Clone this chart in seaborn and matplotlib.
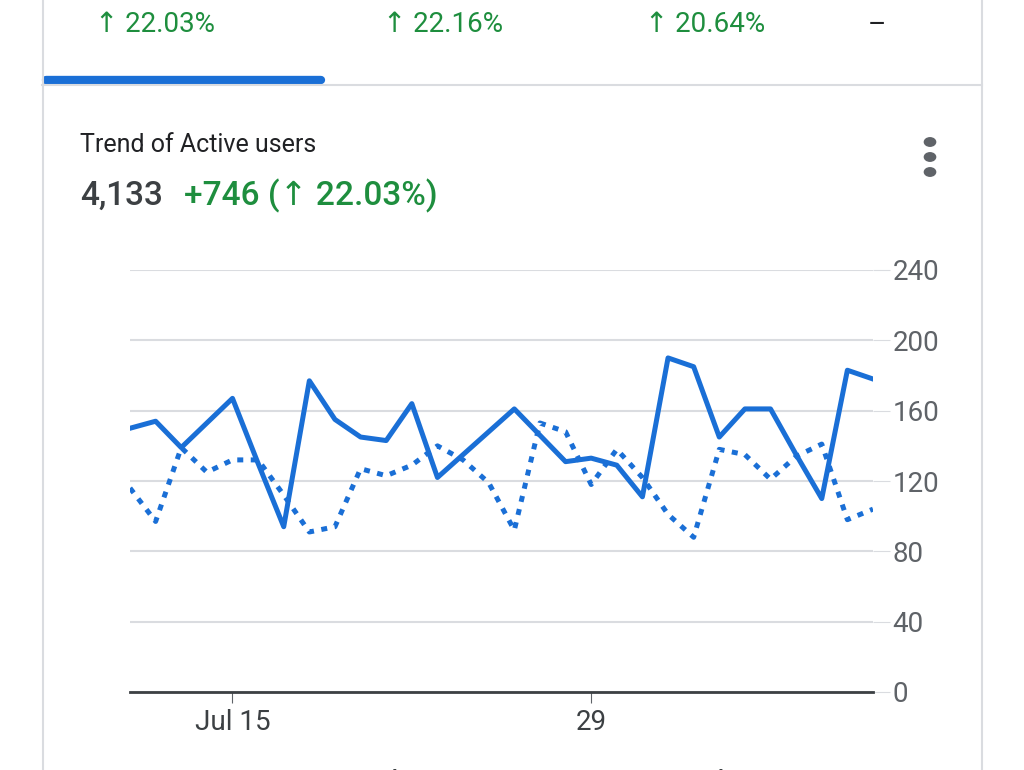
import pandas as pd
import numpy as np
import matplotlib.pyplot as plt
import seaborn as sns

#---------------data
dates = pd.date_range("2023-07-11", periods=30, freq="D")
current = [150, 154, 139, 153, 167, 130, 94, 177, 155, 145, 143, 164, 122, 135, 148,
           161, 146, 131, 133, 129, 111, 190, 185, 145, 161, 161, 135, 110, 183, 178]
previous = [116, 97, 139, 125, 132, 132, 112, 91, 94, 127, 123, 129, 140, 132, 119,
            92, 153, 148, 118, 138, 122, 101, 88, 138, 135, 121, 134, 141, 98, 104]
y_ticks = [0, 40, 80, 120, 160, 200, 240]
header_pcts = ["↑ 22.03%", "↑ 22.16%", "↑ 20.64%"]

df = pd.DataFrame({"date": dates, "current": current, "previous": previous})

blue = "#1a6fd6"
green = "#1e8e3e"
plt.rcParams["font.family"] = ["Roboto", "DejaVu Sans"]

fig = plt.figure(figsize=(10.24, 7.7), dpi=100)

#---------------header and card decorations
W, H = 1024, 770
def fx(x): return x / W
def fy(y): return 1 - y / H

for x, t in zip([155, 443, 705], header_pcts):
    fig.text(fx(x), fy(25), t, color=green, fontsize=20, ha="center", va="center")
fig.text(fx(877), fy(25), "–", color="#202124", fontsize=20, ha="center", va="center")
fig.add_artist(plt.Line2D([fx(46), fx(321)], [fy(80), fy(80)], color=blue, lw=6, solid_capstyle="round"))
fig.add_artist(plt.Line2D([fx(42), fx(982)], [fy(85), fy(85)], color="#dadce0", lw=1.5))
fig.add_artist(plt.Line2D([fx(43), fx(43)], [fy(0), fy(770)], color="#dadce0", lw=1.5))
fig.add_artist(plt.Line2D([fx(982), fx(982)], [fy(0), fy(770)], color="#dadce0", lw=1.5))

fig.text(fx(80), fy(145), "Trend of Active users", color="#202124", fontsize=18, va="center")
fig.text(fx(80), fy(196), "4,133", color="#3c4043", fontsize=24, va="center", weight="medium")
fig.text(fx(184), fy(196), "+746 (↑ 22.03%)", color=green, fontsize=24, va="center", weight="medium")
for yy in [142, 157, 172]:
    fig.add_artist(plt.Circle((fx(930), fy(yy)), 0.0055, transform=fig.transFigure, color="#5f6368"))

#---------------main chart
ax = fig.add_axes([fx(130), fy(692), fx(873) - fx(130), fy(270) - fy(692)])
sns.lineplot(data=df, x="date", y="current", ax=ax, color=blue, lw=3.6, label="Current Period")
sns.lineplot(data=df, x="date", y="previous", ax=ax, color=blue, lw=3.6, linestyle=(0, (1.2, 1.5)),
             label="Previous Period")
ax.set_ylim(0, 240)
ax.set_xlim(dates[0], dates[-1])
ax.set_yticks(y_ticks)
ax.yaxis.tick_right()
ax.tick_params(axis="y", length=12, color="#dadce0", labelsize=20, labelcolor="#5f6368", pad=2)
ax.grid(axis="y", color="#dadce0", lw=1.5)
ax.set_xticks([pd.Timestamp("2023-07-15"), pd.Timestamp("2023-07-29")])
ax.set_xticklabels(["Jul 15", "29"])
ax.tick_params(axis="x", length=8, color="#5f6368", labelsize=20, labelcolor="#3c4043", pad=4)
for s in ["top", "left", "right"]:
    ax.spines[s].set_visible(False)
ax.spines["bottom"].set_color("#3c4043")
ax.spines["bottom"].set_linewidth(2)
ax.set_xlabel("")
ax.set_ylabel("")
ax.legend(loc="upper left", bbox_to_anchor=(-0.04, -0.115), ncol=2, frameon=False, fontsize=23,
          handlelength=1.2, columnspacing=1.2, labelcolor="#3c4043")

fig.savefig("out.png", dpi=100)
